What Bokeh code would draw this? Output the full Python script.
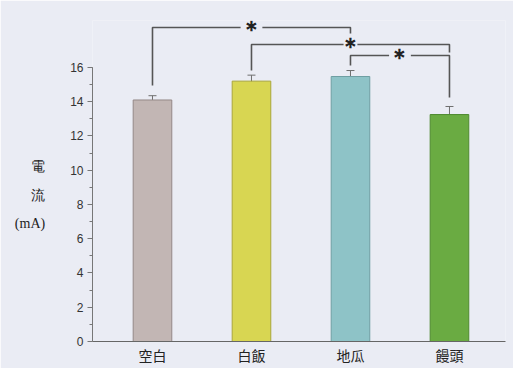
from bokeh.plotting import figure
from bokeh.models import Range1d, ColumnDataSource, Whisker, TeeHead, FixedTicker
from bokeh.embed import file_html
from bokeh.resources import INLINE

categories = ["空白", "白飯", "地瓜", "饅頭"]
values = [14.1, 15.2, 15.47, 13.25]
errors = [0.25, 0.35, 0.35, 0.47]
colors = ["#c2b6b4", "#d8d652", "#8ec3c7", "#6aab42"]
edges = ["#948887", "#a9a63a", "#6f9fa3", "#4f8a30"]
y_ticks = [0, 2, 4, 6, 8, 10, 12, 14, 16]
y_label = "\n電\n流\n(mA)"

# significance brackets: (left index, right index, top y, left end y, right end y, star x)
brackets = [
    (1, 3, 18.33, 14.94, 17.98, 2.0),
    (2, 4, 17.34, 15.82, 16.87, 3.0),
    (3, 4, 16.70, 16.11, 14.24, 3.5),
]
star_gaps = [0.11, 0.07, 0.11]

xs = [1, 2, 3, 4]
bg = "#eaecf4"

p = figure(width=513, height=368, output_backend="svg", toolbar_location=None,
           x_range=Range1d(0.394, 4.566), y_range=Range1d(0, 18.74),
           min_border_left=92, min_border_right=8, min_border_top=20, min_border_bottom=27)
p.background_fill_color = bg
p.border_fill_color = bg
p.outline_line_color = None
p.grid.visible = False

src = ColumnDataSource(dict(x=xs, top=values, color=colors, edge=edges,
                            lower=[v - e for v, e in zip(values, errors)],
                            upper=[v + e for v, e in zip(values, errors)]))
p.vbar(x="x", top="top", width=0.39, bottom=0, fill_color="color", line_color="edge",
       line_width=1, source=src)

w = Whisker(base="x", lower="lower", upper="upper", source=src, line_color="#6f6f6f",
            line_width=1,
            upper_head=TeeHead(size=8, line_color="#6f6f6f", line_width=1),
            lower_head=TeeHead(size=8, line_color="#6f6f6f", line_width=1))
p.add_layout(w)

for (li, ri, ty, ly, ry, sx), g in zip(brackets, star_gaps):
    p.line([li, li, sx - g], [ly, ty, ty], line_color="#555555", line_width=1.6)
    p.line([sx + g, ri, ri], [ty, ty, ry], line_color="#555555", line_width=1.6)
    p.text(x=[sx], y=[ty], text=["＊"], text_align="center", text_baseline="middle",
           text_font="Noto Sans CJK TC", text_font_size="23px", text_color="#222222",
           text_font_style="bold", y_offset=2)

# axes
p.yaxis.ticker = FixedTicker(ticks=y_ticks, minor_ticks=list(range(0, 17)))
p.yaxis.bounds = (0, 16)
p.yaxis.axis_line_color = "#777777"
p.yaxis.major_tick_line_color = "#777777"
p.yaxis.minor_tick_line_color = "#777777"
p.yaxis.major_tick_out = 5
p.yaxis.major_tick_in = 0
p.yaxis.minor_tick_out = 3
p.yaxis.minor_tick_in = 0
p.yaxis.major_label_text_font = "Liberation Sans"
p.yaxis.major_label_text_font_size = "12px"
p.yaxis.major_label_text_color = "#333333"
p.yaxis.major_label_standoff = 4
p.yaxis.axis_label = y_label
p.yaxis.axis_label_orientation = "horizontal"
p.yaxis.axis_label_text_font = "Liberation Serif"
p.yaxis.axis_label_text_font_style = "normal"
p.yaxis.axis_label_text_font_size = "14px"
p.yaxis.axis_label_text_color = "#222222"
p.yaxis.axis_label_text_line_height = 1.9
p.yaxis.axis_label_standoff = 22

p.xaxis.ticker = FixedTicker(ticks=xs)
p.xaxis.major_label_overrides = {x: c for x, c in zip(xs, categories)}
p.xaxis.axis_line_color = "#666666"
p.xaxis.major_tick_line_color = None
p.xaxis.minor_tick_line_color = None
p.xaxis.major_tick_out = 0
p.xaxis.major_tick_in = 0
p.xaxis.major_label_text_font = "Noto Sans CJK TC"
p.xaxis.major_label_text_font_size = "14px"
p.xaxis.major_label_text_color = "#222222"
p.xaxis.major_label_standoff = 3

open("out.html", "w").write(file_html(p, INLINE))
